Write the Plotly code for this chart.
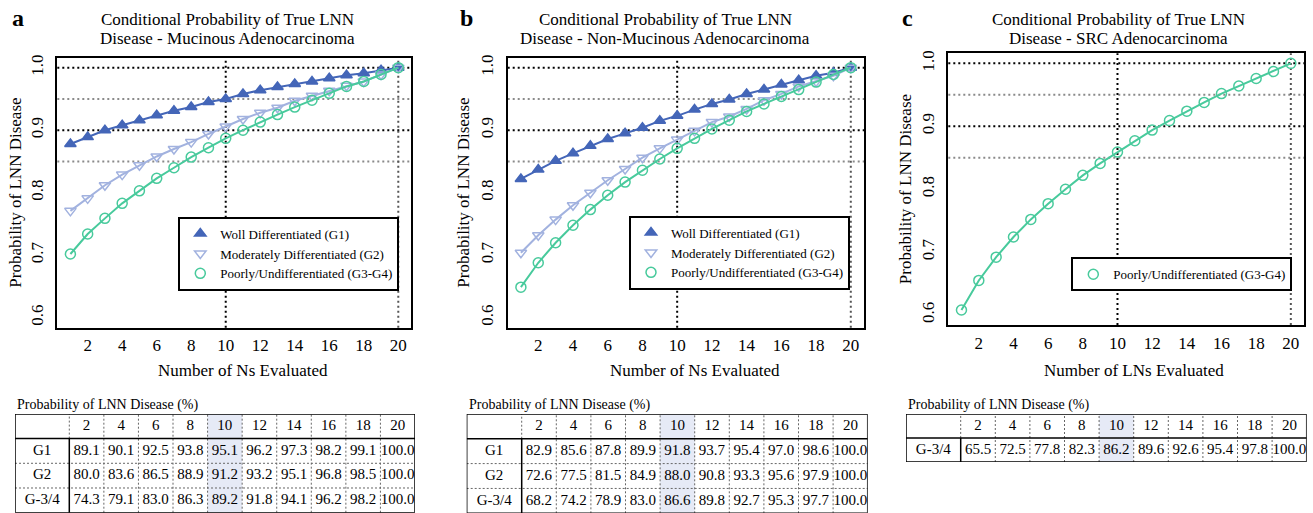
import plotly.graph_objects as go

W, H = 1313, 513
SERIF = "Liberation Serif"

ns = list(range(1, 21))

# panel a - mucinous
muc_g1 = [0.878, 0.889, 0.900, 0.908, 0.916, 0.924, 0.931, 0.937, 0.945, 0.950,
          0.958, 0.964, 0.969, 0.974, 0.978, 0.983, 0.988, 0.991, 0.996, 1.000]
muc_g2 = [0.771, 0.791, 0.812, 0.829, 0.844, 0.858, 0.870, 0.881, 0.894, 0.906,
          0.918, 0.928, 0.936, 0.947, 0.955, 0.963, 0.971, 0.978, 0.989, 1.000]
muc_g34 = [0.702, 0.734, 0.759, 0.783, 0.803, 0.823, 0.840, 0.857, 0.872, 0.887,
           0.900, 0.913, 0.925, 0.937, 0.948, 0.959, 0.970, 0.978, 0.989, 1.000]

# panel b - non-mucinous
non_g1 = [0.822, 0.837, 0.851, 0.863, 0.875, 0.886, 0.895, 0.904, 0.915, 0.923,
          0.933, 0.942, 0.949, 0.958, 0.965, 0.973, 0.980, 0.987, 0.992, 1.000]
non_g2 = [0.704, 0.732, 0.757, 0.780, 0.800, 0.820, 0.838, 0.856, 0.871, 0.885,
          0.899, 0.913, 0.922, 0.934, 0.948, 0.958, 0.970, 0.978, 0.987, 1.000]
non_g34 = [0.649, 0.688, 0.720, 0.748, 0.773, 0.796, 0.817, 0.836, 0.854, 0.871,
           0.887, 0.902, 0.916, 0.930, 0.942, 0.954, 0.965, 0.977, 0.989, 1.000]

# panel c - SRC
src_g34 = [0.608, 0.655, 0.692, 0.724, 0.752, 0.777, 0.800, 0.822, 0.841, 0.859,
           0.877, 0.894, 0.909, 0.924, 0.938, 0.952, 0.964, 0.976, 0.987, 1.000]

# tables
tab_cols = ["2", "4", "6", "8", "10", "12", "14", "16", "18", "20"]
tab_highlight = "10"
muc_tab_rows = ["G1", "G2", "G-3/4"]
muc_tab = [
    [89.1, 90.1, 92.5, 93.8, 95.1, 96.2, 97.3, 98.2, 99.1, 100.0],
    [80.0, 83.6, 86.5, 88.9, 91.2, 93.2, 95.1, 96.8, 98.5, 100.0],
    [74.3, 79.1, 83.0, 86.3, 89.2, 91.8, 94.1, 96.2, 98.2, 100.0],
]
non_tab_rows = ["G1", "G2", "G-3/4"]
non_tab = [
    [82.9, 85.6, 87.8, 89.9, 91.8, 93.7, 95.4, 97.0, 98.6, 100.0],
    [72.6, 77.5, 81.5, 84.9, 88.0, 90.8, 93.3, 95.6, 97.9, 100.0],
    [68.2, 74.2, 78.9, 83.0, 86.6, 89.8, 92.7, 95.3, 97.7, 100.0],
]
src_tab_rows = ["G-3/4"]
src_tab = [
    [65.5, 72.5, 77.8, 82.3, 86.2, 89.6, 92.6, 95.4, 97.8, 100.0],
]

names = ["Woll Differentiated (G1)", "Moderately Differentiated (G2)",
         "Poorly/Undifferentiated (G3-G4)"]
colors = ["#4466B8", "#A2B2DF", "#48CA9C"]
symbols = ["triangle-up", "triangle-down-open", "circle-open"]


def px(x):
    return x / W


def py(y):
    return 1 - y / H


fig = go.Figure()
shapes = []
annotations = []
layout = {}

panels = [
    dict(letter="a", sub="Mucinous Adenocarcinoma", series=[muc_g1, muc_g2, muc_g34],
         box=(57.3, 411.4, 55, 326.7), title_x=227, xt_x=243, yt_x=16, letter_x=18,
         xlabel="Number of Ns Evaluated", legend=(399.3, 289.3)),
    dict(letter="b", sub="Non-Mucinous Adenocarcinoma", series=[non_g1, non_g2, non_g34],
         box=(507.7, 864, 55, 326.7), title_x=665, xt_x=695, yt_x=464, letter_x=466,
         xlabel="Number of Ns Evaluated", legend=(850, 288.3)),
    dict(letter="c", sub="SRC Adenocarcinoma", series=[None, None, src_g34],
         box=(948.3, 1304, 50.6, 324), title_x=1118, xt_x=1134, yt_x=905, letter_x=907,
         xlabel="Number of LNs Evaluated", legend=(1292.3, 290)),
]

for i, p in enumerate(panels):
    k = i + 1
    xa = "x" if k == 1 else f"x{k}"
    ya = "y" if k == 1 else f"y{k}"
    lg = "legend" if k == 1 else f"legend{k}"
    x0, x1, y0, y1 = p["box"]
    layout["xaxis" if k == 1 else f"xaxis{k}"] = dict(
        domain=[px(x0), px(x1)], anchor=ya, range=[0.24, 20.76],
        tickvals=list(range(2, 21, 2)), ticks="", showgrid=False, zeroline=False,
        showline=True, mirror=True, linecolor="black", linewidth=2,
        tickfont=dict(family=SERIF, size=17, color="black"), ticklabelstandoff=1)
    layout["yaxis" if k == 1 else f"yaxis{k}"] = dict(
        domain=[py(y1), py(y0)], anchor=xa, range=[0.584, 1.016],
        tickvals=[0.6, 0.7, 0.8, 0.9, 1.0], ticktext=["0.6", "0.7", "0.8", "0.9", "1.0"],
        tickangle=-90, ticks="", showgrid=False, zeroline=False,
        showline=True, mirror=True, linecolor="black", linewidth=2,
        tickfont=dict(family=SERIF, size=17, color="black"), ticklabelstandoff=6)

    # reference lines
    for yv, col in [(0.85, "#8a8a8a"), (0.95, "#8a8a8a"), (0.9, "black"), (1.0, "black")]:
        shapes.append(dict(type="line", xref=f"{xa} domain", yref=ya, x0=0, x1=1,
                           y0=yv, y1=yv, layer="below",
                           line=dict(color=col, width=2, dash="2px,3px")))
    for xv, col in [(10, "black"), (20, "#555555")]:
        shapes.append(dict(type="line", xref=xa, yref=f"{ya} domain", x0=xv, x1=xv,
                           y0=0, y1=1, layer="below",
                           line=dict(color=col, width=2, dash="2px,3px")))

    for s, vals in enumerate(p["series"]):
        if vals is None:
            continue
        fig.add_trace(go.Scatter(
            x=ns, y=vals, mode="lines+markers", xaxis=xa, yaxis=ya, showlegend=False,
            line=dict(color=colors[s], width=2),
            marker=dict(symbol=symbols[s], size=10, color=colors[s],
                        line=dict(color=colors[s], width=1.5))))
        fig.add_trace(go.Scatter(
            x=[None], y=[None], mode="markers", name=names[s], legend=lg,
            xaxis=xa, yaxis=ya,
            marker=dict(symbol=symbols[s], size=10, color=colors[s],
                        line=dict(color=colors[s], width=1.5))))

    lx, lyb = p["legend"]
    layout[lg] = dict(x=px(lx), y=py(lyb), xanchor="right", yanchor="bottom",
                      bordercolor="black", borderwidth=2, bgcolor="white",
                      font=dict(family=SERIF, size=13, color="black"),
                      itemwidth=30, tracegroupgap=0)

    t_font = dict(family=SERIF, size=17, color="black")
    annotations += [
        dict(text="Conditional Probability of True LNN", x=px(p["title_x"]), y=py(17),
             xref="paper", yref="paper", xanchor="center", yanchor="middle",
             showarrow=False, font=t_font),
        dict(text="Disease - " + p["sub"], x=px(p["title_x"]), y=py(36),
             xref="paper", yref="paper", xanchor="center", yanchor="middle",
             showarrow=False, font=t_font),
        dict(text="<b>" + p["letter"] + "</b>", x=px(p["letter_x"]), y=py(15),
             xref="paper", yref="paper", xanchor="center", yanchor="middle",
             showarrow=False, font=dict(family=SERIF, size=24, color="black")),
        dict(text=p["xlabel"], x=px(p["xt_x"]), y=py(370), xref="paper", yref="paper",
             xanchor="center", yanchor="middle", showarrow=False,
             font=dict(family=SERIF, size=17, color="black")),
        dict(text="Probability of LNN Disease", x=px(p["yt_x"]), y=py((y0 + y1) / 2),
             xref="paper", yref="paper", xanchor="center", yanchor="middle",
             textangle=-90, showarrow=False,
             font=dict(family=SERIF, size=17, color="black")),
    ]

# tables below each panel
tables = [
    dict(rows=muc_tab_rows, vals=muc_tab, box=(15, 415, 413.3, 512.7), lab=69.3, yb=0.0),
    dict(rows=non_tab_rows, vals=non_tab, box=(466.7, 867.7, 413.3, 513), lab=521.7, yb=0.012),
    dict(rows=src_tab_rows, vals=src_tab, box=(906, 1306.7, 413.3, 461.7), lab=960.7, yb=0.0),
]
dot = dict(color="#666666", width=1, dash="2px,2px")
solid = dict(color="black", width=1.5)
for i, t in enumerate(tables):
    k = i + 4
    xa, ya = f"x{k}", f"y{k}"
    x0, x1, y0, y1 = t["box"]
    colw = (x1 - t["lab"]) / len(tab_cols)
    lw = (t["lab"] - x0) / colw
    nr = len(t["rows"])
    top = nr + 1
    layout[f"xaxis{k}"] = dict(domain=[px(x0), px(x1)], anchor=ya, range=[-lw, len(tab_cols)],
                               visible=False, fixedrange=True)
    layout[f"yaxis{k}"] = dict(domain=[py(y1), py(y0)], anchor=xa, range=[t["yb"], top],
                               visible=False, fixedrange=True)
    hi = tab_cols.index(tab_highlight)
    shapes.append(dict(type="rect", xref=xa, yref=ya, x0=hi, x1=hi + 1, y0=0, y1=top,
                       fillcolor="#E6EAF6", line=dict(width=0), layer="below"))
    for c in range(1, len(tab_cols)):
        shapes.append(dict(type="line", xref=xa, yref=ya, x0=c, x1=c, y0=0, y1=top, line=dot))
    for r in range(1, nr):
        shapes.append(dict(type="line", xref=xa, yref=ya, x0=-lw, x1=len(tab_cols), y0=r, y1=r,
                           line=dot))
    shapes.append(dict(type="line", xref=xa, yref=ya, x0=0, x1=0, y0=nr, y1=top, line=dot))
    shapes.append(dict(type="line", xref=xa, yref=ya, x0=0, x1=0, y0=0, y1=nr, line=solid))
    shapes.append(dict(type="line", xref=xa, yref=ya, x0=-lw, x1=len(tab_cols), y0=nr, y1=nr,
                       line=solid))
    shapes.append(dict(type="rect", xref=xa, yref=ya, x0=-lw, x1=len(tab_cols), y0=0, y1=top,
                       line=solid))

    cx = [c + 0.5 for c in range(len(tab_cols))]
    fig.add_trace(go.Scatter(x=cx, y=[nr + 0.5] * len(tab_cols), text=tab_cols, mode="text",
                             xaxis=xa, yaxis=ya, showlegend=False, cliponaxis=False,
                             textfont=dict(family=SERIF, size=15, color="black")))
    for r, (lab, row) in enumerate(zip(t["rows"], t["vals"])):
        yr = nr - r - 0.5
        fig.add_trace(go.Scatter(x=[-lw / 2] + cx, y=[yr] * (len(row) + 1),
                                 text=[lab] + [f"{v:.1f}" for v in row], mode="text",
                                 xaxis=xa, yaxis=ya, showlegend=False,
                                 textfont=dict(family=SERIF, size=15, color="black")))
    annotations.append(dict(text="Probability of LNN Disease (%)", x=px(x0), y=py(404),
                            xref="paper", yref="paper", xanchor="left", yanchor="middle",
                            showarrow=False, font=dict(family=SERIF, size=14, color="black")))

fig.update_layout(
    width=W, height=H, margin=dict(l=0, r=0, t=0, b=0),
    paper_bgcolor="white", plot_bgcolor="white",
    shapes=shapes, annotations=annotations, **layout)

fig.write_html("out.html", config={"displayModeBar": False},
               post_script="document.body.style.margin='0';")
